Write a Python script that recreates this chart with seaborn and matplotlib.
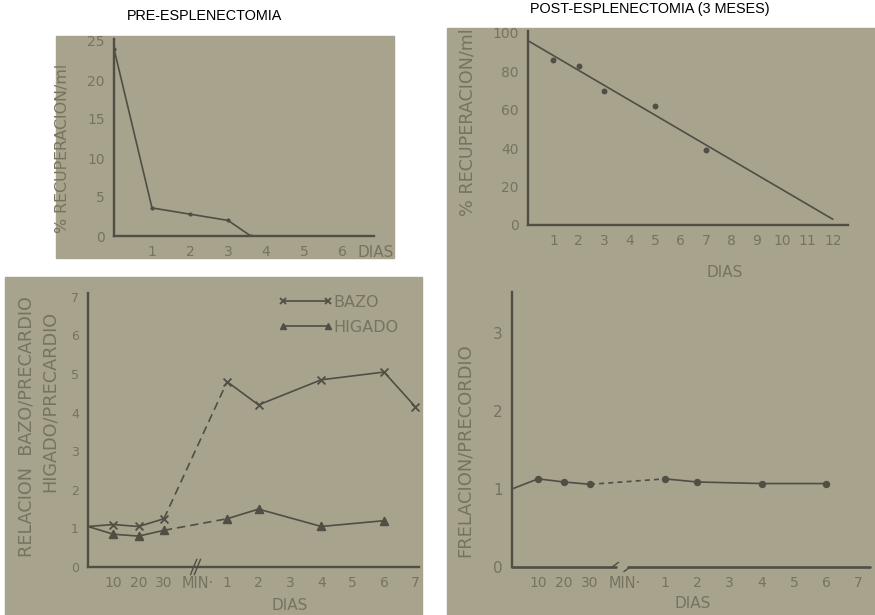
import matplotlib
matplotlib.use("Agg")
import matplotlib.pyplot as plt
import seaborn as sns
import pandas as pd
from matplotlib.patches import Rectangle
from matplotlib.lines import Line2D

# --- datos ---
# pre-esplenectomia: % recuperacion/ml por dia
pre_dias = [0, 1, 2, 3, 3.6]
pre_recup = [24, 3.6, 2.8, 2.0, 0]

# post-esplenectomia (3 meses)
post_dias = [1, 2, 3, 5, 7]
post_recup = [86, 83, 70, 62, 39]
recta_dias = [0, 12]
recta_recup = [96, 3]

# relacion bazo/precardio e higado/precardio
minutos = [0, 10, 20, 30]
bazo_min = [1.05, 1.1, 1.05, 1.25]
higado_min = [1.05, 0.85, 0.8, 0.95]
bazo_dias_t = [1, 2, 4, 6, 7]
bazo_dias = [4.8, 4.2, 4.85, 5.05, 4.15]
higado_dias_t = [1, 2, 4, 6]
higado_dias = [1.25, 1.5, 1.05, 1.2]

# relacion/precordio post
rel_min = [1.0, 1.13, 1.09, 1.06]
rel_dias_t = [1, 2, 4, 6]
rel_dias = [1.13, 1.09, 1.07, 1.07]

tick_min = [10, 20, 30]
tick_dias = [1, 2, 3, 4, 5, 6, 7]

W, H = 875, 615
FONDO = "#a7a38c"
LINEA = "#504e45"
TEXTO = "#76735f"

sns.set_style("white")
plt.rcParams["font.family"] = ["DejaVu Sans"]

fig = plt.figure(figsize=(W / 100, H / 100), dpi=100)
fig.patch.set_facecolor("white")


def caja(x0, y0, x1, y1):
    # pixeles (arriba-izquierda) -> fraccion de figura
    return [x0 / W, (H - y1) / H, (x1 - x0) / W, (y1 - y0) / H]


def foto(x0, y0, x1, y1):
    fig.patches.append(Rectangle((x0 / W, (H - y1) / H), (x1 - x0) / W, (y1 - y0) / H,
                                 transform=fig.transFigure, color=FONDO, zorder=-5))


def texto(x, y, s, size, rot=0, **kw):
    fig.text(x / W, 1 - y / H, s, rotation=rot, ha="center", va="center", fontsize=size,
             color=kw.pop("color", TEXTO), **kw)


foto(56, 36, 394, 258)
foto(447, 28, 875, 615)
foto(5, 277, 422, 615)


def estilo(ax, ysize, xsize):
    ax.set_facecolor("none")
    for s in ["top", "right"]:
        ax.spines[s].set_visible(False)
    for s in ["left", "bottom"]:
        ax.spines[s].set_color(LINEA)
        ax.spines[s].set_linewidth(1.7)
    ax.tick_params(axis="both", direction="inout", length=7, width=1.2, color=LINEA,
                   labelcolor=TEXTO, pad=3)
    ax.tick_params(axis="y", labelsize=ysize)
    ax.tick_params(axis="x", labelsize=xsize)


def abajo(ax, x, s, size):
    ax.annotate(s, xy=(x, 0), xycoords=("data", "axes fraction"), xytext=(0, -6.5),
                textcoords="offset points", ha="center", va="top", fontsize=size,
                color=TEXTO)


# --- arriba izquierda ---
ax1 = fig.add_axes(caja(114, 236 - 25.3 * 7.8, 114 + 6.85 * 38, 236))
estilo(ax1, 10, 10)
sns.lineplot(x=pre_dias, y=pre_recup, ax=ax1, color=LINEA, lw=1.2, sort=False,
             estimator=None, marker="o", markersize=3, markeredgewidth=0)
ax1.set_xlim(0, 6.85)
ax1.set_ylim(0, 25.3)
ax1.set_yticks([0, 5, 10, 15, 20, 25])
ax1.set_xticks(range(0, 7))
ax1.set_xticklabels([""] + [str(i) for i in range(1, 7)])
abajo(ax1, 6.88, "DIAS", 11)
texto(62, 148, "% RECUPERACION/ml", 11.4, 90)
texto(205, 16, "PRE-ESPLENECTOMIA", 10.4, color="black", family="Liberation Sans")

# --- arriba derecha ---
ax2 = fig.add_axes(caja(528, 225 - 101 * 1.92, 528 + 12.6 * 25.4, 225))
estilo(ax2, 10, 10)
sns.lineplot(x=recta_dias, y=recta_recup, ax=ax2, color=LINEA, lw=1.2)
sns.scatterplot(x=post_dias, y=post_recup, ax=ax2, color=LINEA, s=18, linewidth=0)
ax2.set_xlim(0, 12.6)
ax2.set_ylim(0, 101)
ax2.set_yticks(range(0, 101, 20))
ax2.set_xticks(range(0, 13))
ax2.set_xticklabels([""] + [str(i) for i in range(1, 13)])
texto(725, 273, "DIAS", 11)
texto(468, 122, "% RECUPERACION/ml", 12.6, 90)
texto(650, 9, "POST-ESPLENECTOMIA (3 MESES)", 10.4, color="black", family="Liberation Sans")


def eje_roto(t_min, t_dias, inicio):
    # posicion en el eje roto: minutos de 10 en 10, luego dias
    return [m / 10 for m in t_min], [inicio + (d - 1) * 1.24 for d in t_dias]


def serie(ax, inicio, vmin, tdias, vdias, marker, ms, conector):
    xm, xd = eje_roto(minutos, tdias, inicio)
    sns.lineplot(x=xm, y=vmin, ax=ax, color=LINEA, lw=1.2, sort=False, estimator=None)
    sns.lineplot(x=xd, y=vdias, ax=ax, color=LINEA, lw=1.2, sort=False, estimator=None)
    ax.plot([xm[-1], xd[0]], [vmin[-1], vdias[0]], color=LINEA, lw=1.2, ls=conector)
    sns.scatterplot(x=xm[1:] + xd, y=vmin[1:] + vdias, ax=ax, marker=marker, s=ms,
                    color=LINEA, edgecolor=LINEA, linewidth=1.3, zorder=3)


def ticks_rotos(ax, inicio, xsize):
    xm, xd = eje_roto(tick_min, tick_dias, inicio)
    ax.set_xticks(xm + xd)
    ax.set_xticklabels([str(t) for t in tick_min] + [str(t) for t in tick_dias])
    abajo(ax, 4.35, "MIN\u00b7", xsize)


# --- abajo izquierda ---
ax3 = fig.add_axes(caja(88, 567 - 7.1 * 38.6, 88 + 13.1 * 25.3, 567))
estilo(ax3, 9, 10)
serie(ax3, 5.5, bazo_min, bazo_dias_t, bazo_dias, "x", 32, (0, (5, 3)))
serie(ax3, 5.5, higado_min, higado_dias_t, higado_dias, "^", 30, (0, (5, 3)))
ax3.set_xlim(0, 13.1)
ax3.set_ylim(0, 7.1)
ax3.set_yticks(range(0, 8))
ticks_rotos(ax3, 5.5, 10.5)
ax3.plot([4.05, 4.3], [-0.2, 0.2], color=LINEA, lw=1, clip_on=False)
ax3.plot([4.2, 4.45], [-0.2, 0.2], color=LINEA, lw=1, clip_on=False)
texto(290, 606, "DIAS", 11)
texto(27, 427, "RELACION  BAZO/PRECARDIO", 12.7, 90)
texto(50, 401, "HIGADO/PRECARDIO", 12.7, 90)
manejadores = [Line2D([], [], color=LINEA, lw=1.2, marker="x", ms=5, mew=1.3),
               Line2D([], [], color=LINEA, lw=1.2, marker="^", ms=5)]
ax3.legend(manejadores, ["BAZO", "HIGADO"], numpoints=2, frameon=False, fontsize=11.5,
           handlelength=3.4, handletextpad=0.05, labelcolor=TEXTO, loc="upper left",
           bbox_to_anchor=(0.53, 1.045), labelspacing=0.6)

# --- abajo derecha ---
ax4 = fig.add_axes(caja(512, 567 - 3.52 * 78, 512 + 13.75 * 26, 567))
estilo(ax4, 11, 10)
serie(ax4, 5.88, rel_min, rel_dias_t, rel_dias, "o", 16, (0, (3, 2.5)))
ax4.set_xlim(0, 13.75)
ax4.set_ylim(0, 3.52)
ax4.set_yticks(range(0, 4))
ticks_rotos(ax4, 5.88, 10.5)
ax4.spines["bottom"].set_visible(False)
ax4.plot([0, 4.0], [0, 0], color=LINEA, lw=1.9, clip_on=False)
ax4.plot([4.45, 13.75], [0, 0], color=LINEA, lw=1.9, clip_on=False)
ax4.plot([3.85, 4.1], [0, 0.06], color=LINEA, lw=1, clip_on=False)
ax4.plot([4.3, 4.55], [-0.06, 0], color=LINEA, lw=1, clip_on=False)
texto(693, 604, "DIAS", 11)
texto(465, 450, "FRELACION/PRECORDIO", 12.9, 90)

fig.savefig("out.png", dpi=100, facecolor="white")
